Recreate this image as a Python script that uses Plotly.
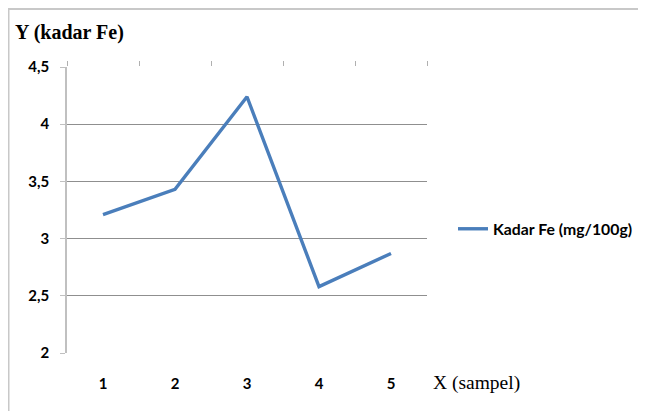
import plotly.graph_objects as go

categories = ["1", "2", "3", "4", "5"]
x_positions = [1, 2, 3, 4, 5]
kadar_fe = [3.21, 3.43, 4.24, 2.58, 2.87]
series_name = "Kadar Fe (mg/100g)"
y_ticks = [2, 2.5, 3, 3.5, 4, 4.5]
y_tick_labels = ["2", "2,5", "3", "3,5", "4", "4,5"]
grid_ticks = [2.5, 3, 3.5, 4, 4.5]
boundaries = [0.5, 1.5, 2.5, 3.5, 4.5, 5.5]

# page body adds an 8px offset; figure coordinates = screen coordinates - 8
OFF = 8
W, H = 646 - OFF, 411 - OFF
L = 67 - OFF
T = 67 - OFF
R = W - (427 - OFF)
B = H - (353 - OFF)
pw, ph = W - L - R, H - T - B

def px(x):
    return (x - OFF - L) / pw

def py(y):
    return (H - B - (y - OFF)) / ph

tick_font = dict(family="Lato", size=15, color="black", weight="bold")
serif = "Liberation Serif, Times New Roman, DejaVu Serif, serif"

fig = go.Figure()
fig.add_trace(go.Scatter(
    x=x_positions, y=kadar_fe, mode="lines", name=series_name,
    line=dict(color="#4A7EBB", width=3.4),
    xaxis="x", yaxis="y", showlegend=True,
))
# invisible trace to activate helper axes
fig.add_trace(go.Scatter(x=[1], y=[3], mode="markers", marker=dict(opacity=0),
                         xaxis="x2", yaxis="y2", showlegend=False, hoverinfo="skip"))

fig.update_layout(
    width=W, height=H,
    margin=dict(l=L, r=R, t=T, b=B, pad=0, autoexpand=False),
    paper_bgcolor="white", plot_bgcolor="white",
    xaxis=dict(range=[0.5, 5.5], tickvals=x_positions, ticktext=categories,
               showgrid=False, zeroline=False, showline=False, ticks="",
               ticklabelstandoff=20, tickfont=tick_font, automargin=False),
    xaxis2=dict(range=[0.5, 5.5], overlaying="x", side="top", tickvals=boundaries,
                ticks="outside", ticklen=5, tickcolor="#b0b0b0", tickwidth=1,
                showticklabels=False, showgrid=False, zeroline=False, showline=False,
                anchor="y", automargin=False),
    yaxis=dict(range=[2, 4.5], tickvals=y_ticks, ticktext=y_tick_labels,
               showgrid=False, zeroline=False, showline=True, linecolor="#c0c0c0",
               linewidth=1.5, ticks="outside", ticklen=5, tickcolor="#c0c0c0",
               ticklabelstandoff=8, tickfont=tick_font, automargin=False),
    yaxis2=dict(range=[2, 4.5], overlaying="y", tickvals=grid_ticks,
                showgrid=True, gridcolor="#8f8f8f", gridwidth=1,
                showticklabels=False, zeroline=False, showline=False, ticks="",
                automargin=False),
    legend=dict(x=px(453), y=py(229), xanchor="left", yanchor="middle",
                bgcolor="rgba(0,0,0,0)", itemwidth=30,
                font=dict(family="Lato", size=15.8, color="black", weight="bold")),
    annotations=[
        dict(text="Y (kadar Fe)", xref="paper", yref="paper",
             x=px(13), y=py(33), xanchor="left", yanchor="middle", showarrow=False,
             font=dict(family=serif, size=20, color="black", weight="bold")),
        dict(text="X (sampel)", xref="paper", yref="paper",
             x=px(431), y=py(383), xanchor="left", yanchor="middle", showarrow=False,
             font=dict(family=serif, size=19.5, color="black")),
    ],
    shapes=[
        dict(type="line", xref="paper", yref="paper", x0=px(8), x1=px(646),
             y0=py(9), y1=py(9), line=dict(color="#c8c8c8", width=2)),
        dict(type="line", xref="paper", yref="paper", x0=px(8.5), x1=px(8.5),
             y0=py(9), y1=py(411), line=dict(color="#c8c8c8", width=2)),
    ],
)

fig.write_html("out.html")
